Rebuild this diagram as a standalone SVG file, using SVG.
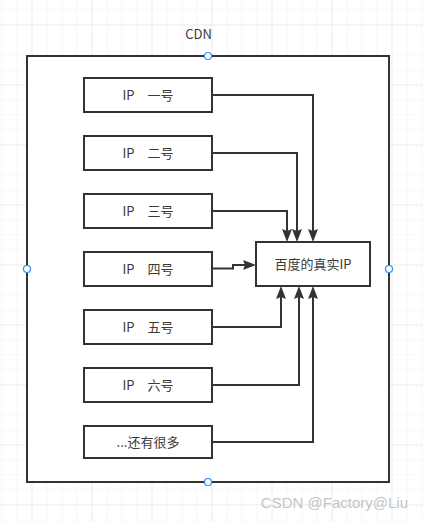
<svg xmlns="http://www.w3.org/2000/svg" width="423" height="521" viewBox="0 0 423 521">
<defs>
<pattern id="minor" x="1.5" y="9.5" width="15" height="15" patternUnits="userSpaceOnUse">
<path d="M0,0 H15 M0,0 V15" fill="none" stroke="#f0f0f0" stroke-width="1"/>
</pattern>
<pattern id="major" x="31.5" y="24.5" width="60" height="60" patternUnits="userSpaceOnUse">
<path d="M0,0 H60 M0,0 V60" fill="none" stroke="#e3e3e3" stroke-width="1"/>
</pattern>
<marker id="arrow" markerUnits="userSpaceOnUse" markerWidth="14" markerHeight="10" refX="10" refY="5" orient="auto" viewBox="0 0 14 10">
<path d="M0,0 L13,5 L0,10 L2,5 Z" fill="#333333"/>
</marker>
<style>
.box{fill:#ffffff;stroke:#333333;stroke-width:2}
.lbl{font-family:"Noto Sans CJK SC","Noto Sans",sans-serif;font-size:13px;fill:#3a3a3a;text-anchor:middle}
.edge{fill:none;stroke:#333333;stroke-width:2;marker-end:url(#arrow)}
.handle{fill:#ffffff;stroke:#2b8cff;stroke-width:1.2}
</style>
</defs>
<rect width="423" height="521" fill="#ffffff"/>
<rect width="423" height="521" fill="url(#minor)"/>
<rect width="423" height="521" fill="url(#major)"/>

<g id="cdn">
<rect class="box" x="27" y="56" width="362" height="426" fill="#ffffff"/>
<text class="lbl" x="198.5" y="38.5">CDN</text>
</g>

<g id="ip1"><rect class="box" x="84" y="78" width="128" height="34"/><text class="lbl" x="148" y="100">IP　一号</text></g>
<g id="ip2"><rect class="box" x="84" y="136" width="128" height="34"/><text class="lbl" x="148" y="158">IP　二号</text></g>
<g id="ip3"><rect class="box" x="84" y="194" width="128" height="34"/><text class="lbl" x="148" y="216">IP　三号</text></g>
<g id="ip4"><rect class="box" x="84" y="252" width="128" height="34"/><text class="lbl" x="148" y="274">IP　四号</text></g>
<g id="ip5"><rect class="box" x="84" y="310" width="128" height="34"/><text class="lbl" x="148" y="332">IP　五号</text></g>
<g id="ip6"><rect class="box" x="84" y="368" width="128" height="34"/><text class="lbl" x="148" y="390">IP　六号</text></g>
<g id="more"><rect class="box" x="84" y="426" width="128" height="32"/><text class="lbl" x="148" y="447">...还有很多</text></g>

<g id="real"><rect class="box" x="256" y="242" width="114" height="44"/><text class="lbl" x="313" y="269">百度的真实IP</text></g>

<g id="connectors">
<path class="edge" d="M212,95 H313 V239"/>
<path class="edge" d="M212,153 H297 V239"/>
<path class="edge" d="M212,211 H287 V239"/>
<path class="edge" d="M212,268.5 H233 V265 H253"/>
<path class="edge" d="M212,327 H281 V289"/>
<path class="edge" d="M212,385 H299 V289"/>
<path class="edge" d="M212,442 H313 V289"/>
</g>

<g id="handles">
<circle class="handle" cx="208" cy="56" r="3.5"/>
<circle class="handle" cx="27" cy="269" r="3.5"/>
<circle class="handle" cx="389" cy="269" r="3.5"/>
<circle class="handle" cx="208" cy="482" r="3.5"/>
</g>

<text x="408" y="508" font-family="'Liberation Sans',Arial,sans-serif" font-size="15" fill="#c4c4c4" text-anchor="end">CSDN @Factory@Liu</text>
</svg>
